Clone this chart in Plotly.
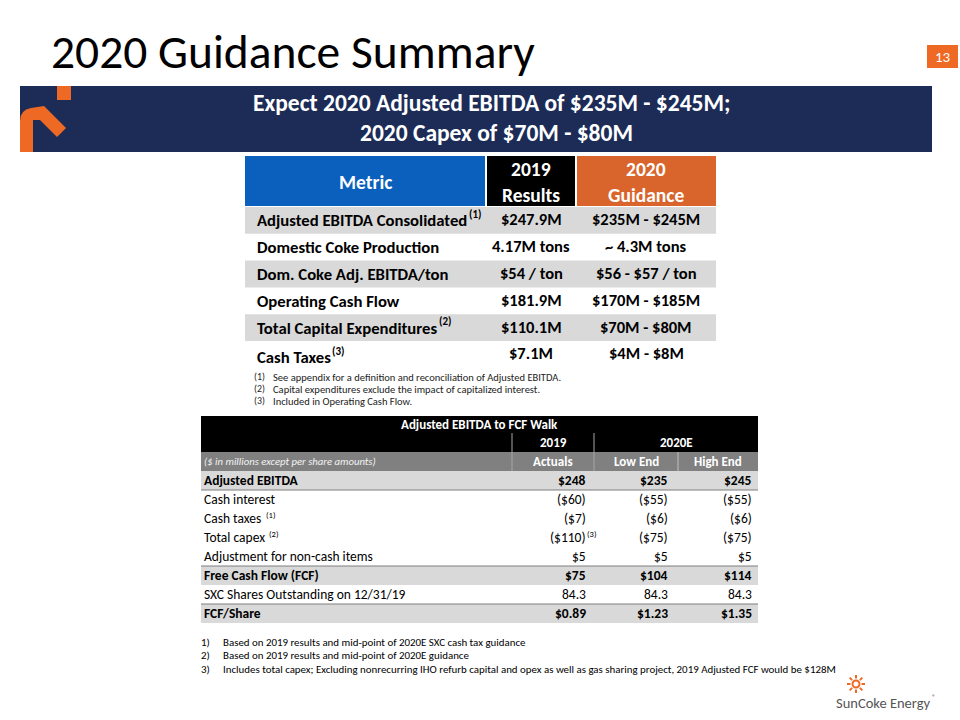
import math
import plotly.graph_objects as go

# ---------------- data ----------------
slide_title = "2020 Guidance Summary"
page_number = "13"
banner_lines = ["Expect 2020 Adjusted EBITDA of $235M - $245M;", "2020 Capex of $70M - $80M"]

top_headers = ["Metric", "2019<br>Results", "2020<br>Guidance"]
top_metrics = ["Adjusted EBITDA Consolidated", "Domestic Coke Production", "Dom. Coke Adj. EBITDA/ton",
               "Operating Cash Flow", "Total Capital Expenditures", "Cash Taxes"]
top_metric_notes = ["(1)", "", "", "", "(2)", "(3)"]
top_2019 = ["$247.9M", "4.17M tons", "$54 / ton", "$181.9M", "$110.1M", "$7.1M"]
top_2020 = ["$235M - $245M", "~ 4.3M tons", "$56 - $57 / ton", "$170M - $185M", "$70M - $80M", "$4M - $8M"]
top_footnotes = ["See appendix for a definition and reconciliation of Adjusted EBITDA.",
                 "Capital expenditures exclude the impact of capitalized interest.",
                 "Included in Operating Cash Flow."]

walk_title = "Adjusted EBITDA to FCF Walk"
walk_groups = ["2019", "2020E"]
walk_subtitle = "($ in millions except per share amounts)"
walk_columns = ["Actuals", "Low End", "High End"]
walk_labels = ["Adjusted EBITDA", "Cash interest", "Cash taxes", "Total capex",
               "Adjustment for non-cash items", "Free Cash Flow (FCF)",
               "SXC Shares Outstanding on 12/31/19", "FCF/Share"]
walk_label_notes = ["", "", "(1)", "(2)", "", "", "", ""]
walk_2019 = ["$248", "($60)", "($7)", "($110)", "$5", "$75", "84.3", "$0.89"]
walk_2019_notes = ["", "", "", "(3)", "", "", "", ""]
walk_low = ["$235", "($55)", "($6)", "($75)", "$5", "$104", "84.3", "$1.23"]
walk_high = ["$245", "($55)", "($6)", "($75)", "$5", "$114", "84.3", "$1.35"]
walk_bold = [True, False, False, False, False, True, False, True]
walk_footnotes = ["Based on 2019 results and mid-point of 2020E SXC cash tax guidance",
                  "Based on 2019 results and mid-point of 2020E guidance",
                  "Includes total capex; Excluding nonrecurring IHO refurb capital and opex as well as gas sharing project, 2019 Adjusted FCF would be $128M"]
company = "SunCoke Energy"
company_mark = "®"

# ---------------- style / layout ----------------
FONT = "Carlito, Lato, sans-serif"
NAVY = "#1C2C57"
ORANGE = "#EE6A24"
BLUE = "#0A60BC"
HDR_ORANGE = "#D9652C"
GRAY = "#D9D9D9"
MID_GRAY = "#808080"
# x where each superscript note starts (right after its label text)
TOP_NOTE_X = {0: 468, 4: 438, 5: 331}
WALK_NOTE_X = {2: 265, 3: 268}

fig = go.Figure()
shapes = []
annots = []


def rect(x0, y0, x1, y1, color):
    shapes.append(dict(type="rect", xref="x", yref="y", x0=x0, y0=y0, x1=x1, y1=y1,
                       fillcolor=color, line=dict(width=0), layer="below"))


def line(x0, y0, x1, y1, color, w=1):
    shapes.append(dict(type="line", xref="x", yref="y", x0=x0, y0=y0, x1=x1, y1=y1,
                       line=dict(color=color, width=w), layer="above"))


def text(x, y, s, size, color="#000000", bold=False, italic=False, xanchor="center", family=FONT):
    if bold:
        s = "<b>" + s + "</b>"
    if italic:
        s = "<i>" + s + "</i>"
    annots.append(dict(x=x, y=y, xref="x", yref="y", text=s, showarrow=False, borderpad=0,
                       xanchor=xanchor, yanchor="middle", align=xanchor if xanchor != "middle" else "center",
                       font=dict(family=family, size=size, color=color)))


# ---------------- title & banner ----------------
text(50, 52, slide_title, 47.5, xanchor="left")
rect(927, 45, 958, 68, ORANGE)
text(942.5, 56.5, page_number, 15, "#FFFFFF")

rect(20, 86, 932, 152, NAVY)
text(492, 103, banner_lines[0], 23.5, "#FFFFFF", bold=True)
text(496, 133, banner_lines[1], 23.5, "#FFFFFF", bold=True)
# logo mark
shapes.append(dict(type="path", xref="x", yref="y",
                   path="M 20,152 L 20,121 Q 20,110 31,108 L 44,106 L 66,128 L 57,137 L 40,120 L 33,120 L 33,152 Z",
                   fillcolor=ORANGE, line=dict(width=0)))
rect(57, 86, 71, 100, ORANGE)

# ---------------- top table ----------------
tx = [245, 486, 576, 716]
hdr_top, hdr_bot = 156, 206
row_h = 26.8
hdr_colors = [BLUE, "#000000", HDR_ORANGE]
for i, c in enumerate(hdr_colors):
    rect(tx[i] + (1 if i else 0), hdr_top, tx[i + 1] - (1 if i < 2 else 0), hdr_bot, c)
for i, h in enumerate(top_headers):
    cx = (tx[i] + tx[i + 1]) / 2
    parts = h.split("<br>")
    if len(parts) == 1:
        text(cx, 182, parts[0], 19.5, "#FFFFFF", bold=True)
    else:
        text(cx, 169, parts[0], 19.5, "#FFFFFF", bold=True)
        text(cx, 195, parts[1], 19.5, "#FFFFFF", bold=True)

for r, m in enumerate(top_metrics):
    y0 = hdr_bot + 1 + r * row_h
    y1 = y0 + row_h
    if r % 2 == 0:
        rect(tx[0], y0, tx[3], y1, GRAY)
    cy = (y0 + y1) / 2
    ly = cy + (3 if r == len(top_metrics) - 1 else 0)
    text(256, ly, m, 16.7, bold=True, xanchor="left")
    if top_metric_notes[r]:
        text(TOP_NOTE_X[r], ly - 6, top_metric_notes[r], 11, bold=True, xanchor="left")
    text((tx[1] + tx[2]) / 2, cy - 1, top_2019[r], 16.5, bold=True)
    text((tx[2] + tx[3]) / 2, cy - 1, top_2020[r], 16.5, bold=True)

for i, fn in enumerate(top_footnotes):
    y = 377 + i * 12
    text(253, y, "(%d)" % (i + 1), 9.8, "#222", xanchor="left")
    text(272, y, fn, 10.5, "#222", xanchor="left")

# ---------------- walk table ----------------
wx = [201, 512, 594, 678, 758]
rect(wx[0], 416, wx[4], 433, "#000000")
text((wx[0] + wx[4]) / 2, 424.5, walk_title, 13, "#FFFFFF", bold=True)
rect(wx[0], 433, wx[4], 452, "#000000")
text((wx[1] + wx[2]) / 2, 442.5, walk_groups[0], 13, "#FFFFFF", bold=True)
text((wx[2] + wx[4]) / 2, 442.5, walk_groups[1], 13, "#FFFFFF", bold=True)
rect(wx[0], 452, wx[4], 471, MID_GRAY)
text(203, 461.5, walk_subtitle, 10.7, "#F2F2F2", italic=True, xanchor="left")
for i, c in enumerate(walk_columns):
    text((wx[i + 1] + wx[i + 2]) / 2, 461.5, c, 13, "#FFFFFF", bold=True)
line(wx[1], 433, wx[1], 471, "#A6A6A6")
line(wx[2], 433, wx[2], 471, "#A6A6A6")
line(wx[3], 452, wx[3], 471, "#BFBFBF")

wrow = 19
wtop = 471
for r, lab in enumerate(walk_labels):
    y0 = wtop + r * wrow
    y1 = y0 + wrow
    cy = (y0 + y1) / 2
    b = walk_bold[r]
    if b:
        rect(wx[0], y0, wx[4], y1, GRAY)
    text(203, cy, lab, 13.5, bold=b, xanchor="left")
    if walk_label_notes[r]:
        text(WALK_NOTE_X[r], cy - 4, walk_label_notes[r], 8.5, xanchor="left")
    for val, xr in zip([walk_2019[r], walk_low[r], walk_high[r]], [587, 669, 753]):
        text(xr, cy, val, 13.5, bold=b, xanchor="right")
    if walk_2019_notes[r]:
        text(586, cy - 4, walk_2019_notes[r], 8.5, xanchor="left")
line(wx[0], wtop + wrow, wx[4], wtop + wrow, "#7F7F7F", 1)
line(wx[0], wtop + 5 * wrow, wx[4], wtop + 5 * wrow, "#7F7F7F", 1)
line(wx[0], wtop + 7 * wrow, wx[4], wtop + 7 * wrow, "#7F7F7F", 1)

for i, fn in enumerate(walk_footnotes):
    y = 642 + i * 13.5
    text(200, y, "%d)" % (i + 1), 10.9, "#000", xanchor="left")
    text(222, y, fn, 10.9, "#000", xanchor="left")

# ---------------- company logo ----------------
sun_x, sun_y = 856, 684
shapes.append(dict(type="circle", xref="x", yref="y", x0=sun_x - 3.5, y0=sun_y - 3.5, x1=sun_x + 3.5, y1=sun_y + 3.5,
                   line=dict(color=ORANGE, width=2), fillcolor="rgba(0,0,0,0)"))
for k in range(8):
    a = k * math.pi / 4
    line(sun_x + 5.5 * math.cos(a), sun_y + 5.5 * math.sin(a), sun_x + 9 * math.cos(a), sun_y + 9 * math.sin(a), ORANGE, 2)
text(835, 703, company, 14.5, "#555555", xanchor="left")
text(931, 697, company_mark, 7, "#555555", xanchor="left")

fig.update_layout(
    width=960, height=720,
    margin=dict(l=0, r=0, t=0, b=0),
    paper_bgcolor="#FFFFFF", plot_bgcolor="#FFFFFF",
    xaxis=dict(range=[0, 960], visible=False, fixedrange=True),
    yaxis=dict(range=[720, 0], visible=False, fixedrange=True),
    shapes=shapes, annotations=annots, showlegend=False,
)

fig.write_html("out.html", config={"displayModeBar": False},
               post_script="document.body.style.margin='0';document.body.style.overflow='hidden';")
